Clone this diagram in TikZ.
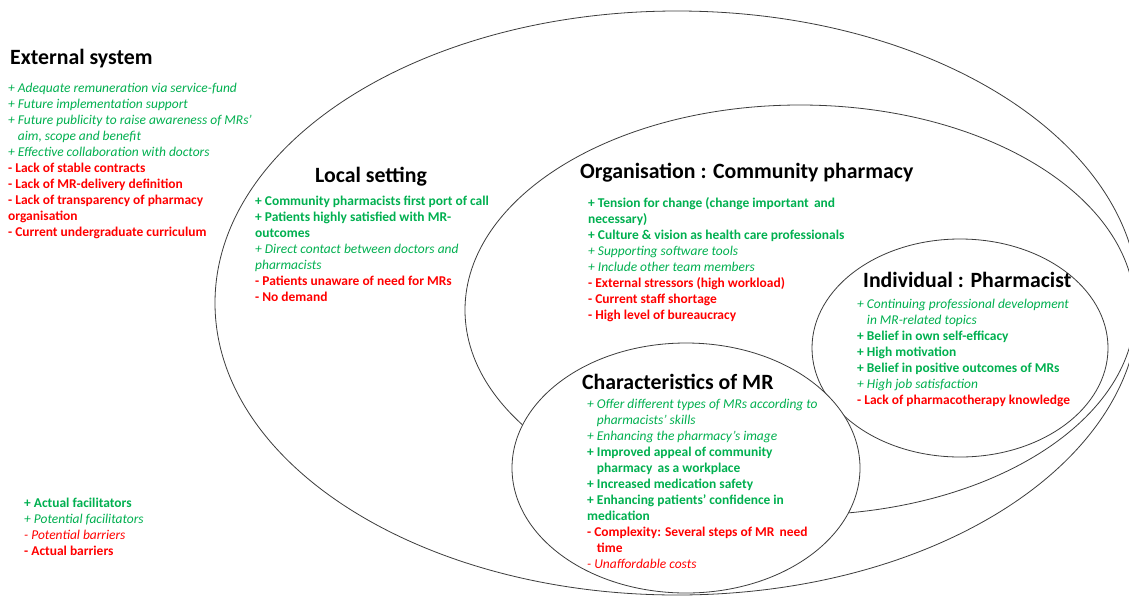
\documentclass[tikz,border=0pt]{standalone}
\usepackage{fontspec}
\setmainfont{Carlito}
\definecolor{fgreen}{RGB}{0,176,80}
\definecolor{fred}{RGB}{255,0,0}
\definecolor{edgegray}{RGB}{60,60,60}
\newcommand\lnAG[1]{\strut\textcolor{fgreen}{\bfseries #1}}
\newcommand\lnPG[1]{\strut\textcolor{fgreen}{\itshape #1}}
\newcommand\lnPR[1]{\strut\textcolor{fred}{\itshape #1}}
\newcommand\lnAR[1]{\strut\textcolor{fred}{\bfseries #1}}
\newcommand\indA{\phantom{\bfseries + }}
\newcommand\indP{\phantom{\itshape + }}
\begin{document}
\begin{tikzpicture}[x=1pt,y=-1pt,
  ring/.style={draw=edgegray, line width=0.8pt},
  ttl/.style={font=\fontsize{21.8}{26}\selectfont\bfseries, inner sep=0, anchor=base west},
  lst/.style={font=\fontsize{13.45}{16}\selectfont, align=left, inner sep=0, anchor=north west}]
\useasboundingbox (0,0) rectangle (1129,595);
\fill[white] (0,0) rectangle (1129,595);
\begin{scope}
\clip (0,0) rectangle (1129,595);
\draw[ring] (677,303) ellipse [x radius=462, y radius=292];
\draw[ring] (800,310) ellipse [x radius=335, y radius=205];
\draw[ring] (960,348) ellipse [x radius=148, y radius=109];
\draw[ring, fill=white] (686,468) ellipse [x radius=174, y radius=125];
\end{scope}

% External system
\node[ttl] (extT) at (10,64) {External system};
\node[lst] (extL) at (8,80.8) {%
\lnPG{+ Adequate remuneration via service-fund}\\
\lnPG{+ Future implementation support}\\
\lnPG{+ Future publicity to raise awareness of MRs’}\\
\lnPG{\indP aim, scope and benefit}\\
\lnPG{+ Effective collaboration with doctors}\\
\lnAR{- Lack of stable contracts}\\
\lnAR{- Lack of MR-delivery definition}\\
\lnAR{- Lack of transparency of pharmacy}\\
\lnAR{organisation}\\
\lnAR{- Current undergraduate curriculum}};

% Local setting
\node[ttl] (locT) at (315,182) {Local setting};
\node[lst] (locL) at (255,193.8) {%
\lnAG{+ Community pharmacists first port of call}\\
\lnAG{+ Patients highly satisfied with MR-}\\
\lnAG{outcomes}\\
\lnPG{+ Direct contact between doctors and}\\
\lnPG{pharmacists}\\
\lnAR{- Patients unaware of need for MRs}\\
\lnAR{- No demand}};

% Organisation
\node[ttl] (orgT) at (580,178) {Organisation : Community pharmacy};
\node[lst] (orgL) at (588,195.8) {%
\lnAG{+ Tension for change (change important\, and}\\
\lnAG{necessary)}\\
\lnAG{+ Culture \& vision as health care professionals}\\
\lnPG{+ Supporting software tools}\\
\lnPG{+ Include other team members}\\
\lnAR{- External stressors (high workload)}\\
\lnAR{- Current staff shortage}\\
\lnAR{- High level of bureaucracy}};

% Individual
\node[ttl] (indT) at (863,287) {Individual : Pharmacist};
\node[lst] (indL) at (857,296.8) {%
\lnPG{+ Continuing professional development}\\
\lnPG{\indP in MR-related topics}\\
\lnAG{+ Belief in own self-efficacy}\\
\lnAG{+ High motivation}\\
\lnAG{+ Belief in positive outcomes of MRs}\\
\lnPG{+ High job satisfaction}\\
\lnAR{- Lack of pharmacotherapy knowledge}};

% Characteristics
\node[ttl] (chaT) at (582,389) {Characteristics of MR};
\node[lst] (chaL) at (587,396.8) {%
\lnPG{+ Offer different types of MRs according to}\\
\lnPG{\indP pharmacists’ skills}\\
\lnPG{+ Enhancing the pharmacy’s image}\\
\lnAG{+ Improved appeal of community}\\
\lnAG{\indA pharmacy\, as a workplace}\\
\lnAG{+ Increased medication safety}\\
\lnAG{+ Enhancing patients’ confidence in}\\
\lnAG{medication}\\
\lnAR{- Complexity: Several steps of MR\, need}\\
\lnAR{\indA time}\\
\lnPR{- Unaffordable costs}};

% Legend
\node[lst] (legL) at (24,495.8) {%
\lnAG{+ Actual facilitators}\\
\lnPG{+ Potential facilitators}\\
\lnPR{- Potential barriers}\\
\lnAR{- Actual barriers}};
\end{tikzpicture}
\end{document}
